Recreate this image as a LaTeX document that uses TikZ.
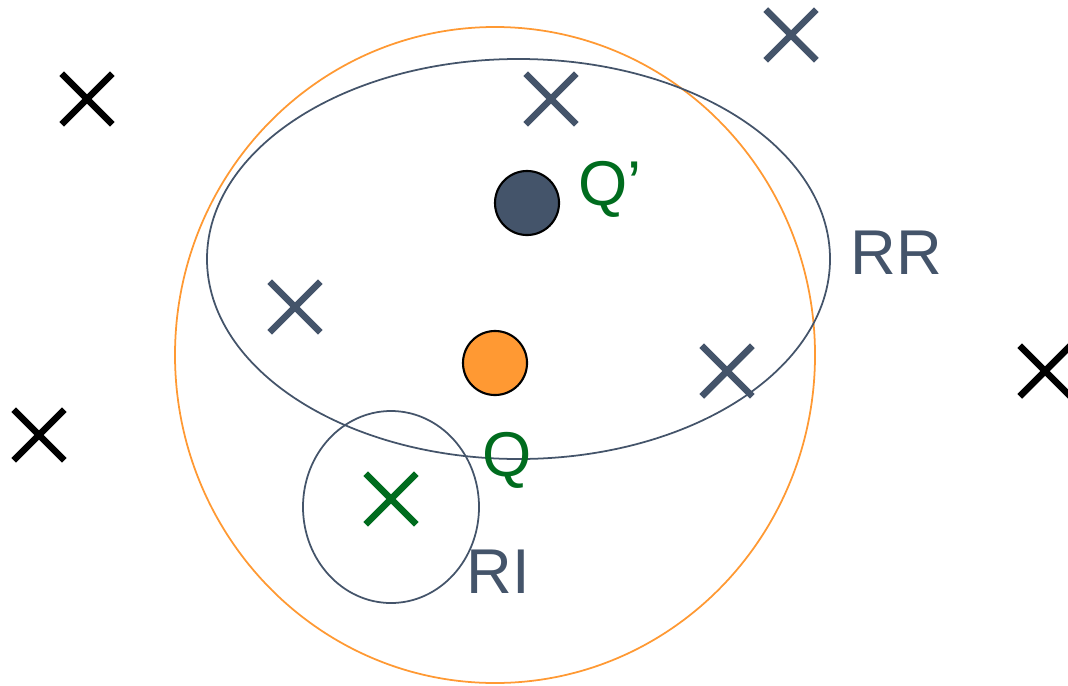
\documentclass[tikz,border=0pt]{standalone}
\usepackage{fontspec}
\setmainfont{Liberation Sans}
\usetikzlibrary{shapes.misc}
\definecolor{rqSlate}{HTML}{44546A}
\definecolor{rqGreen}{HTML}{006C1E}
\definecolor{rqOrange}{HTML}{FF9933}
\tikzset{
  rq mark/.style={cross out, draw=black, line width=1.9pt, minimum size=0.44cm, inner sep=0pt},
  rq ring/.style={draw=rqSlate, line width=0.5pt},
  rq dot/.style={circle, draw=black, line width=0.6pt, minimum size=0.64cm, inner sep=0pt},
  rq label/.style={font=\fontsize{18}{20}\selectfont, inner sep=0pt},
}

\begin{document}
\begin{tikzpicture}[x=0.01cm,y=-0.01cm]
  \useasboundingbox (0,0) rectangle (1068,685);
  % regions
  \draw[draw=rqOrange, line width=0.5pt] (495,355) ellipse [x radius=320, y radius=328];
  \draw[rq ring] (518.5,259) ellipse [x radius=311.5, y radius=200];
  \draw[rq ring] (391,507) ellipse [x radius=88, y radius=96];
  % points
  \node[rq mark] (p1) at (87,99) {};
  \node[rq mark] (p2) at (39,435) {};
  \node[rq mark] (p3) at (1045,371) {};
  \node[rq mark, draw=rqSlate] (r1) at (551,99) {};
  \node[rq mark, draw=rqSlate] (r2) at (791,35) {};
  \node[rq mark, draw=rqSlate] (r3) at (295,307) {};
  \node[rq mark, draw=rqSlate] (r4) at (727,371) {};
  \node[rq mark, draw=rqGreen] (hit) at (391,499) {};
  \node[rq dot, fill=rqSlate] (qdash) at (527,203) {};
  \node[rq dot, fill=rqOrange] (qpt) at (495,363) {};
  % labels
  \node[rq label, text=rqGreen] (lqdash) at (610,189) {Q’};
  \node[rq label, text=rqSlate] (lrr) at (896,253) {RR};
  \node[rq label, text=rqGreen] (lq) at (507,460) {Q};
  \node[rq label, text=rqSlate] (lri) at (498,572) {RI};
\end{tikzpicture}
\end{document}
